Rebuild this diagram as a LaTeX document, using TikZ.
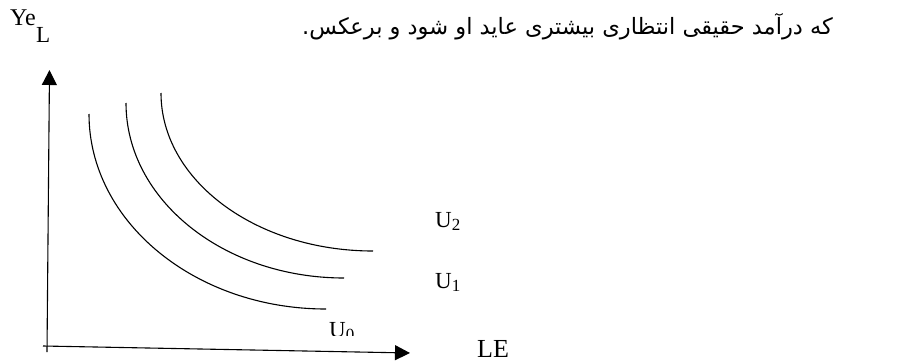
\documentclass[tikz,border=0pt]{standalone}
\usepackage{fontspec}
\setmainfont{Liberation Serif}
\newfontfamily\arabicfont[Script=Arabic]{DejaVu Sans}
\TeXXeTstate=1
\usetikzlibrary{arrows.meta}
\newcommand{\subdig}[1]{\raisebox{-3.5pt}{\fontsize{17}{17}\selectfont #1}}
\begin{document}
\begin{tikzpicture}[x=1pt,y=1pt,
  lbl/.style={inner sep=0pt, anchor=base west, font=\fontsize{23}{23}\selectfont},
  axisline/.style={line width=1.1pt, -{Triangle[length=15pt,width=15pt]}},
  icurve/.style={line width=1.1pt}]
\useasboundingbox (0,0) rectangle (908,-362);
% axes
\coordinate (yb) at (47,-352);
\coordinate (yt) at (49.5,-70);
\coordinate (xl) at (43,-346);
\coordinate (xr) at (410,-353);
\draw[axisline] (yb) -- (yt);
\draw[axisline] (xl) -- (xr);
% indifference curves
\coordinate (u0s) at (89,-114);
\coordinate (u1s) at (126,-103);
\coordinate (u2s) at (161,-93);
\draw[icurve] (u0s) arc[start angle=180, end angle=270, x radius=237, y radius=195];
\draw[icurve] (u1s) arc[start angle=180, end angle=270, x radius=218, y radius=175];
\draw[icurve] (u2s) arc[start angle=180, end angle=270, x radius=212, y radius=158];
% labels
\node[lbl, font=\fontsize{24}{24}\selectfont] (ye) at (10,-25) {Ye};
\node[lbl] (yl) at (36,-42) {L};
\node[lbl] (u2) at (435,-227) {U\subdig{2}};
\node[lbl] (u1) at (435,-288) {U\subdig{1}};
\begin{scope}
  \clip (300,-300) rectangle (380,-335);
  \node[lbl] (u0) at (329,-337) {U\subdig{0}};
\end{scope}
\node[lbl, font=\fontsize{26}{26}\selectfont] (le) at (477,-357) {LE};
\node[inner sep=0pt, anchor=base west, font=\arabicfont\fontsize{22.5}{22.5}\selectfont] (fa) at (302,-34) {\beginR که درآمد حقیقی انتظاری بیشتری عاید او شود و برعکس.\endR};
\end{tikzpicture}
\end{document}
